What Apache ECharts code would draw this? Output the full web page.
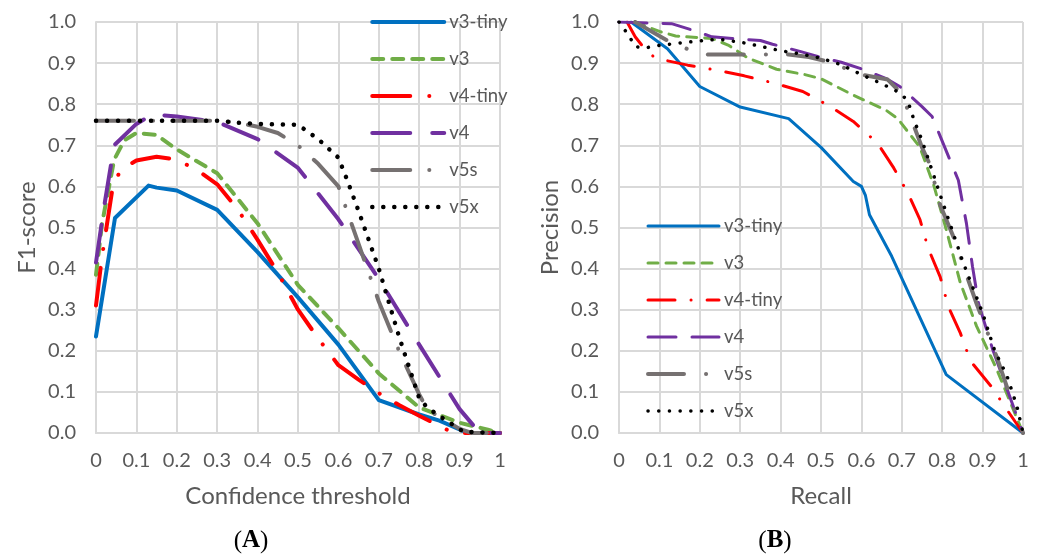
<!DOCTYPE html>
<html>
<head>
<meta charset="utf-8">
<script src="https://cdn.jsdelivr.net/npm/echarts@6/dist/echarts.min.js"></script>
<style>html,body{margin:0;padding:0;background:#fff;}#c{width:1037px;height:557px;}</style>
</head>
<body>
<div id="c"></div>
<script>
// ---- tick labels ----
const xTickLabels = ['0','0.1','0.2','0.3','0.4','0.5','0.6','0.7','0.8','0.9','1'];
const yTickLabels = ['0.0','0.1','0.2','0.3','0.4','0.5','0.6','0.7','0.8','0.9','1.0'];
const seriesNames = ['v3-tiny','v3','v4-tiny','v4','v5s','v5x'];

// ---- (A) F1-score vs confidence threshold ----
const f1V3tiny = [[0,0.235],[0.047,0.523],[0.13,0.602],[0.15,0.597],[0.2,0.59],[0.3,0.543],[0.4,0.44],[0.5,0.33],[0.6,0.215],[0.7,0.08],[0.8,0.045],[0.85,0.03],[0.92,0],[1,0]];
const f1V3 = [[0,0.385],[0.015,0.51],[0.045,0.665],[0.07,0.712],[0.1,0.73],[0.15,0.725],[0.2,0.69],[0.3,0.632],[0.4,0.51],[0.5,0.36],[0.6,0.255],[0.7,0.145],[0.8,0.062],[0.9,0.025],[0.97,0.008],[1,0]];
const f1V4tiny = [[0,0.31],[0.015,0.43],[0.04,0.59],[0.06,0.64],[0.1,0.663],[0.15,0.672],[0.2,0.665],[0.25,0.64],[0.3,0.605],[0.35,0.545],[0.4,0.47],[0.45,0.39],[0.5,0.3],[0.55,0.23],[0.6,0.165],[0.65,0.13],[0.7,0.097],[0.75,0.068],[0.8,0.042],[0.885,0],[1,0]];
const f1V4 = [[0,0.415],[0.02,0.55],[0.045,0.7],[0.1,0.752],[0.14,0.775],[0.2,0.77],[0.3,0.757],[0.4,0.715],[0.5,0.645],[0.6,0.52],[0.7,0.375],[0.8,0.215],[0.9,0.058],[0.95,0],[1,0]];
const f1V5s = [[0,0.76],[0.1,0.76],[0.2,0.76],[0.3,0.76],[0.35,0.755],[0.4,0.745],[0.45,0.73],[0.5,0.7],[0.55,0.655],[0.6,0.6],[0.65,0.46],[0.7,0.32],[0.75,0.2],[0.8,0.094],[0.82,0.057],[0.9,0.01],[0.93,0],[1,0]];
const f1V5x = [[0,0.76],[0.1,0.76],[0.2,0.76],[0.3,0.76],[0.35,0.755],[0.4,0.752],[0.5,0.75],[0.55,0.715],[0.6,0.67],[0.62,0.62],[0.65,0.54],[0.7,0.4],[0.75,0.235],[0.8,0.085],[0.82,0.062],[0.86,0.035],[0.91,0.003],[1,0]];

// ---- (B) Precision vs recall ----
const prV3tiny = [[0.03,1.0],[0.12,0.935],[0.2,0.843],[0.3,0.793],[0.42,0.765],[0.5,0.695],[0.58,0.612],[0.6,0.6],[0.61,0.578],[0.62,0.531],[0.675,0.43],[0.81,0.142],[1,0]];
const prV3 = [[0.04,1.0],[0.1,0.977],[0.14,0.966],[0.23,0.96],[0.27,0.944],[0.32,0.912],[0.39,0.885],[0.46,0.872],[0.5,0.862],[0.58,0.822],[0.66,0.786],[0.69,0.765],[0.745,0.695],[0.78,0.6],[0.81,0.495],[0.845,0.365],[0.885,0.26],[0.935,0.155],[1,0]];
const prV4tiny = [[0.02,1.0],[0.04,0.964],[0.065,0.933],[0.09,0.912],[0.17,0.895],[0.24,0.883],[0.31,0.869],[0.385,0.851],[0.455,0.831],[0.52,0.796],[0.58,0.758],[0.64,0.705],[0.68,0.645],[0.715,0.584],[0.745,0.519],[0.765,0.45],[0.795,0.38],[0.815,0.308],[0.845,0.243],[0.87,0.175],[0.92,0.115],[0.96,0.057],[1,0]];
const prV4 = [[0,1.0],[0.13,0.996],[0.17,0.984],[0.23,0.964],[0.28,0.96],[0.35,0.955],[0.38,0.946],[0.45,0.928],[0.5,0.914],[0.55,0.902],[0.6,0.886],[0.66,0.863],[0.695,0.843],[0.75,0.794],[0.775,0.77],[0.8,0.71],[0.84,0.615],[0.86,0.51],[0.875,0.405],[0.89,0.315],[0.925,0.203],[1,0]];
const prV5s = [[0.04,1.0],[0.125,0.952],[0.17,0.934],[0.22,0.921],[0.42,0.921],[0.47,0.915],[0.52,0.903],[0.6,0.872],[0.665,0.86],[0.7,0.825],[0.75,0.695],[0.77,0.652],[0.795,0.555],[0.835,0.46],[0.85,0.413],[0.885,0.315],[0.935,0.185],[0.96,0.113],[1,0]];
const prV5x = [[0,1.0],[0.012,0.984],[0.026,0.964],[0.04,0.94],[0.065,0.937],[0.1,0.943],[0.15,0.949],[0.22,0.956],[0.25,0.958],[0.3,0.951],[0.35,0.941],[0.4,0.93],[0.45,0.922],[0.5,0.912],[0.55,0.896],[0.6,0.872],[0.65,0.85],[0.695,0.828],[0.715,0.808],[0.73,0.762],[0.75,0.712],[0.8,0.565],[0.85,0.42],[0.9,0.292],[0.93,0.2],[0.96,0.14],[0.985,0.065],[1,0]];

const f1Data = [f1V3tiny, f1V3, f1V4tiny, f1V4, f1V5s, f1V5x];
const prData = [prV3tiny, prV3, prV4tiny, prV4, prV5s, prV5x];

const colors = ['#0070C0','#70AD47','#FF0000','#7030A0','#767171','#000000'];
const stylesA = [
  {width:4, type:'solid'},
  {width:4, type:[11,9]},
  {width:4, type:[38,19,0.1,19]},
  {width:4, type:[38,22]},
  {width:4, type:[38,19,0.1,19]},
  {width:4.5, type:[0.1,10.9]}
];
const stylesB = [
  {width:3, type:'solid'},
  {width:3, type:[10,8]},
  {width:3, type:[27,16,0.1,16]},
  {width:3, type:[28,16]},
  {width:4, type:[36,22,0.1,22]},
  {width:3.5, type:[0.1,10.6]}
];

const FONT = 'Lato';
const GRAY = '#595959';
const GRID = '#d9d9d9';

function axisX(idx, name) {
  return {
    type:'value', gridIndex: idx, min:0, max:1, interval:0.1,
    name: name, nameLocation:'middle', nameGap:51,
    nameTextStyle:{fontFamily:FONT, fontSize:24, color:GRAY},
    axisLine:{show:true, lineStyle:{color:GRID, width:2}},
    axisTick:{show:false},
    splitLine:{show:true, lineStyle:{color:GRID, width:2}},
    axisLabel:{fontFamily:FONT, fontSize:20, color:GRAY, margin:18,
      formatter: v => xTickLabels[Math.round(v*10)]}
  };
}
function axisY(idx, name) {
  return {
    type:'value', gridIndex: idx, min:0, max:1, interval:0.1,
    name: name, nameLocation:'middle', nameGap:57,
    nameTextStyle:{fontFamily:FONT, fontSize:24, color:GRAY},
    axisLine:{show:true, lineStyle:{color:GRID, width:2}},
    axisTick:{show:false},
    splitLine:{show:true, lineStyle:{color:GRID, width:2}},
    axisLabel:{fontFamily:FONT, fontSize:20, color:GRAY, margin:20,
      formatter: v => yTickLabels[Math.round(v*10)]}
  };
}

function makeSeries(dataSets, styles, idx, tag) {
  return dataSets.map((d, i) => ({
    type:'line', name: seriesNames[i] + '|' + tag,
    xAxisIndex: idx, yAxisIndex: idx,
    data: d, symbol:'none', silent:true, animation:false,
    lineStyle:{color:colors[i], width:styles[i].width, type:styles[i].type, cap:'round', join:'round'},
    z: 2 + i
  }));
}
function makeLegend(styles, tag, left, top, itemWidth) {
  return {
    orient:'vertical', left:left, top:top, padding:0,
    itemWidth:itemWidth, itemHeight:20, itemGap:17, selectedMode:false,
    formatter: n => n.split('|')[0],
    textStyle:{fontFamily:FONT, fontSize:18.5, color:GRAY, lineHeight:20},
    data: seriesNames.map((n, i) => ({
      name: n + '|' + tag,
      itemStyle:{opacity:0, color:'rgba(0,0,0,0)', borderWidth:0},
      lineStyle:{color:colors[i], width:styles[i].width, type:styles[i].type, cap:'round', opacity:1}
    }))
  };
}

const panelLabelRich = {
  p:{fontFamily:'Liberation Serif', fontSize:25, fill:'#000'},
  b:{fontFamily:'Liberation Serif', fontSize:25, fontWeight:'bold', fill:'#000'}
};

const chart = echarts.init(document.getElementById('c'), null, {renderer:'canvas'});
chart.setOption({
  animation:false,
  backgroundColor:'#fff',
  grid:[
    {left:96, top:22, width:404, height:411},
    {left:619, top:22, width:404, height:411}
  ],
  xAxis:[axisX(0,'Confidence threshold'), axisX(1,'Recall')],
  yAxis:[axisY(0,'F1-score'), axisY(1,'Precision')],
  legend:[
    makeLegend(stylesA, 'A', 370, 12, 72),
    makeLegend(stylesB, 'B', 646, 216, 71)
  ],
  series: makeSeries(f1Data, stylesA, 0, 'A').concat(makeSeries(prData, stylesB, 1, 'B')),
  graphic:[
    {type:'text', x:251, y:541, style:{text:'{p|(}{b|A}{p|)}', textAlign:'center', textVerticalAlign:'middle', rich:panelLabelRich}},
    {type:'text', x:775, y:541, style:{text:'{p|(}{b|B}{p|)}', textAlign:'center', textVerticalAlign:'middle', rich:panelLabelRich}}
  ]
});
</script>
</body>
</html>
